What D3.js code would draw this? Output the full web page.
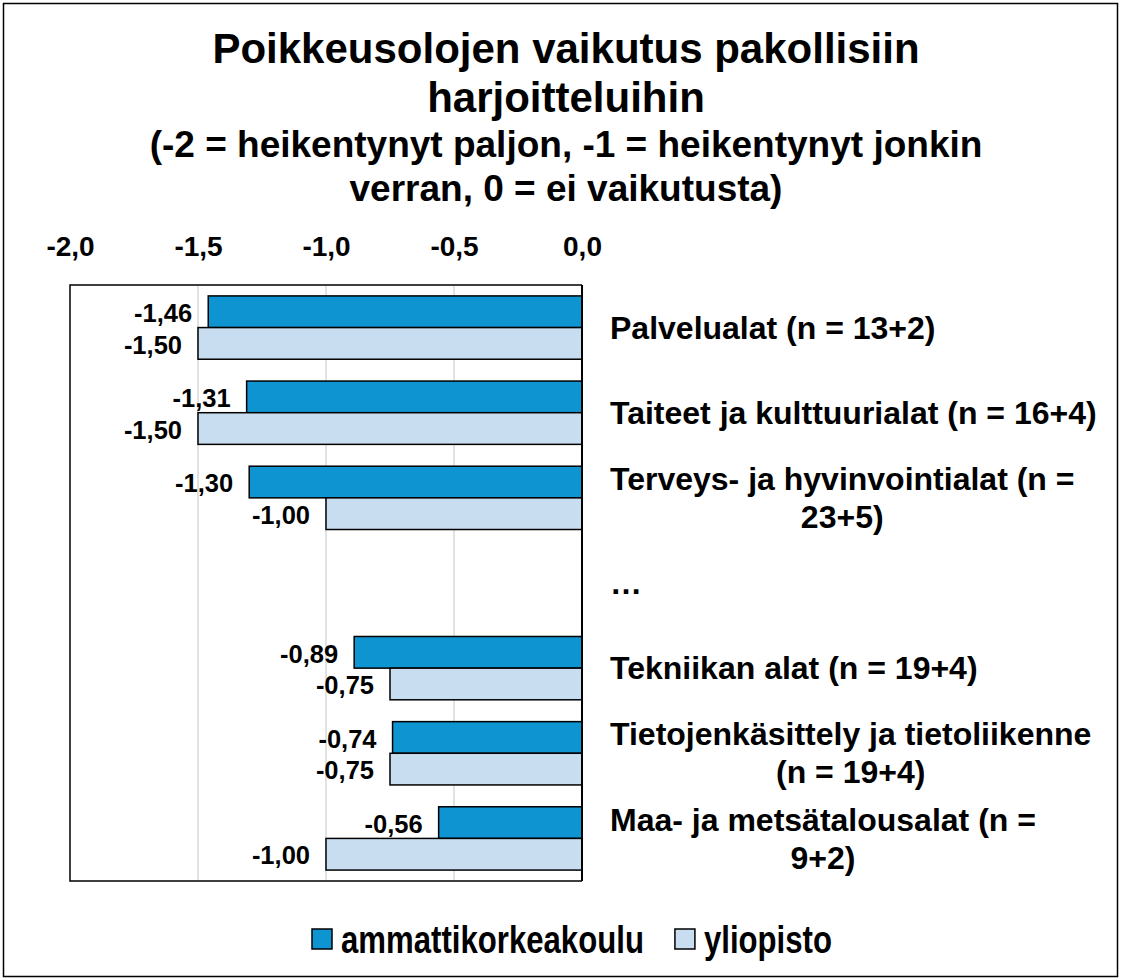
<!DOCTYPE html>
<html>
<head>
<meta charset="utf-8">
<script src="https://cdn.jsdelivr.net/npm/d3@7"></script>
<style>
  body { margin: 0; background: #fff; }
  svg text { font-family: "Liberation Sans", Arial, sans-serif; font-weight: bold; fill: #000; }
  svg text.narrow { font-family: "Liberation Sans Narrow", "Arial Narrow", "Liberation Sans", Arial, sans-serif; }
</style>
</head>
<body>
<div id="chart"></div>
<script>
// data
var categories = [
  "Palvelualat (n = 13+2)",
  "Taiteet ja kulttuurialat (n = 16+4)",
  "Terveys- ja hyvinvointialat (n =\n23+5)",
  "…",
  "Tekniikan alat (n = 19+4)",
  "Tietojenkäsittely ja tietoliikenne\n(n = 19+4)",
  "Maa- ja metsätalousalat (n =\n9+2)"
];
var seriesNames = ["ammattikorkeakoulu", "yliopisto"];
var amk = [-1.46, -1.31, -1.30, null, -0.89, -0.74, -0.56];
var yliopisto = [-1.50, -1.50, -1.00, null, -0.75, -0.75, -1.00];
var tickValues = [-2, -1.5, -1, -0.5, 0];
var titleLines = ["Poikkeusolojen vaikutus pakollisiin", "harjoitteluihin"];
var subtitleLines = ["(-2 = heikentynyt paljon, -1 = heikentynyt jonkin", "verran, 0 = ei vaikutusta)"];

var colors = ["#0f94d2", "#c9ddf1"];
var W = 1124, H = 980;
var plot = {left: 70, right: 582, top: 285, bottom: 881};

var svg = d3.select("#chart").append("svg")
  .attr("width", W).attr("height", H);

// outer frame
svg.append("rect")
  .attr("x", 3.5).attr("y", 3.5)
  .attr("width", W - 10).attr("height", H - 7)
  .attr("fill", "#fff").attr("stroke", "#000").attr("stroke-width", 1.5);

// title
svg.append("g").selectAll("text").data(titleLines).join("text")
  .attr("x", 566).attr("y", function(d, i) { return 63 + i * 49; })
  .attr("text-anchor", "middle").style("font-size", "42px")
  .text(function(d) { return d; });
svg.append("g").selectAll("text").data(subtitleLines).join("text")
  .attr("x", 566).attr("y", function(d, i) { return 157 + i * 44; })
  .attr("text-anchor", "middle").style("font-size", "37px")
  .text(function(d) { return d; });

var x = d3.scaleLinear().domain([-2, 0]).range([plot.left, plot.right]);
var y = d3.scaleBand().domain(d3.range(categories.length))
  .range([plot.top, plot.bottom]).paddingInner(0.2565).paddingOuter(0.12825);
var ySub = d3.scaleBand().domain([0, 1]).range([0, y.bandwidth()]);

// gridlines
svg.append("g").selectAll("line").data(tickValues.slice(1, -1)).join("line")
  .attr("x1", x).attr("x2", x)
  .attr("y1", plot.top).attr("y2", plot.bottom)
  .attr("stroke", "#d9d9d9").attr("stroke-width", 1.5);

// plot border (left, top, bottom)
svg.append("path")
  .attr("d", "M" + plot.right + "," + plot.top + "H" + plot.left + "V" + plot.bottom + "H" + plot.right)
  .attr("fill", "none").attr("stroke", "#000").attr("stroke-width", 1.5);

// top axis
var fmt = function(v) { return d3.format(".1f")(v).replace("−", "-").replace(".", ","); };
var axis = svg.append("g")
  .attr("transform", "translate(0,256)")
  .call(d3.axisTop(x).tickValues(tickValues).tickSize(0).tickFormat(fmt));
axis.select(".domain").remove();
axis.selectAll("text").attr("y", 0).attr("dy", 0)
  .style("font-size", "28px").style("font-family", "Liberation Sans, Arial, sans-serif").style("font-weight", "bold");

// bars
var rows = categories.map(function(c, i) {
  return [ {s: 0, i: i, v: amk[i]}, {s: 1, i: i, v: yliopisto[i]} ];
});
var groups = svg.append("g").selectAll("g").data(rows).join("g")
  .attr("transform", function(d, i) { return "translate(0," + y(i) + ")"; });

groups.selectAll("rect").data(function(d) { return d.filter(function(e) { return e.v != null; }); }).join("rect")
  .attr("x", function(d) { return x(d.v); })
  .attr("y", function(d) { return ySub(d.s); })
  .attr("width", function(d) { return x(0) - x(d.v); })
  .attr("height", ySub.bandwidth())
  .attr("fill", function(d) { return colors[d.s]; })
  .attr("stroke", "#000").attr("stroke-width", 1.5);

groups.selectAll("text").data(function(d) { return d.filter(function(e) { return e.v != null; }); }).join("text")
  .attr("x", function(d) { return x(d.v) - 16; })
  .attr("y", function(d) { return ySub(d.s) + ySub.bandwidth() / 2; })
  .attr("dy", "0.4em").attr("text-anchor", "end")
  .style("font-size", "25.5px")
  .text(function(d) { return d3.format(".2f")(d.v).replace("−", "-").replace(".", ","); });

// zero line
svg.append("line")
  .attr("x1", x(0)).attr("x2", x(0))
  .attr("y1", plot.top).attr("y2", plot.bottom)
  .attr("stroke", "#000").attr("stroke-width", 2);

// category labels: block left-aligned at 610, lines centred within block
var lineH = 38;
categories.forEach(function(c, i) {
  var lines = c.split("\n");
  var g = svg.append("g");
  var cy = y(i) + y.bandwidth() / 2;
  var texts = g.selectAll("text").data(lines).join("text")
    .attr("y", function(d, k) { return cy + (k - (lines.length - 1) / 2) * lineH; })
    .attr("dy", "0.35em")
    .style("font-size", "32px")
    .text(function(d) { return d; });
  var widths = [];
  texts.each(function() { widths.push(this.getComputedTextLength()); });
  var maxW = d3.max(widths);
  texts.attr("x", function(d, k) { return 610 + (maxW - widths[k]) / 2; });
});

// legend (narrow bold; squeeze regular face if no narrow face is installed)
var legend = svg.append("g").attr("transform", "translate(0,939)");
var probeA = legend.append("text").attr("class", "narrow").style("font-size", "38px").text(seriesNames[0]);
var probeB = legend.append("text").style("font-size", "38px").text(seriesNames[0]);
var squeeze = probeA.node().getComputedTextLength() / probeB.node().getComputedTextLength() > 0.9 ? 0.82 : 1;
probeA.remove(); probeB.remove();

var lx = 312;
seriesNames.forEach(function(name, i) {
  legend.append("rect")
    .attr("x", lx).attr("y", -10).attr("width", 20).attr("height", 20)
    .attr("fill", colors[i]).attr("stroke", "#000").attr("stroke-width", 1.5);
  var t = legend.append("text")
    .attr("class", "narrow")
    .attr("transform", "translate(" + (lx + 29) + ",0) scale(" + squeeze + ",1)")
    .attr("dy", "0.36em")
    .style("font-size", "38px")
    .text(name);
  lx += 29 + t.node().getComputedTextLength() * squeeze + 31;
});
</script>
</body>
</html>
